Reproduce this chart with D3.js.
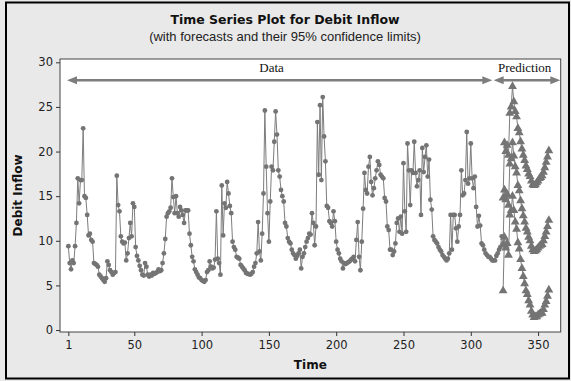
<!DOCTYPE html>
<html>
<head>
<meta charset="utf-8">
<script src="https://cdn.jsdelivr.net/npm/d3@7"></script>
<style>
  body { margin: 0; background: #fff; }
</style>
</head>
<body>
<script>
// observed debit inflow, t = 1 .. 323
const debit = [
  9.4, 7.5, 6.8, 7.8, 7.5, 9.4, 12.0, 17.0, 14.2, 16.8,
  16.8, 22.6, 15.0, 14.8, 12.9, 10.6, 10.8, 10.1, 9.9, 7.5,
  7.4, 7.3, 7.1, 6.2, 6.0, 5.8, 5.6, 5.4, 5.8, 7.7,
  7.3, 6.7, 6.5, 6.2, 6.4, 6.5, 17.3, 14.0, 13.3, 10.5,
  9.9, 9.7, 9.8, 7.8, 8.6, 10.3, 12.0, 10.5, 14.2, 13.8,
  9.3, 8.3, 7.8, 7.2, 6.7, 6.2, 6.1, 7.5, 7.1, 6.2,
  6.0, 6.2, 6.1, 6.4, 6.3, 6.4, 6.5, 6.8, 6.6, 6.7,
  7.5, 8.6, 10.2, 12.7, 13.1, 13.3, 13.7, 17.0, 14.9, 13.1,
  15.0, 13.1, 12.7, 13.8, 13.4, 12.9, 12.0, 13.4, 13.4, 13.4,
  10.8, 9.5, 8.2, 7.7, 6.8, 6.5, 6.2, 5.9, 5.8, 5.6,
  5.5, 5.4, 5.6, 6.5, 6.7, 7.7, 7.1, 6.9, 7.0, 7.9,
  13.3, 8.0, 7.5, 6.2, 16.2, 10.6, 14.2, 13.7, 16.6, 15.3,
  13.9, 13.1, 9.9, 9.3, 9.0, 8.2, 8.1, 8.0, 7.3, 7.1,
  6.9, 6.7, 6.4, 6.3, 6.3, 6.2, 6.3, 6.5, 7.1, 7.5,
  8.6, 12.1, 8.8, 7.8, 10.8, 15.3, 24.6, 18.3, 13.1, 9.9,
  14.4, 18.3, 17.9, 21.1, 24.5, 21.9, 17.9, 17.2, 15.7, 15.0,
  14.4, 12.0, 11.6, 10.3, 9.9, 9.7, 9.0, 8.6, 8.4, 8.0,
  8.3, 8.6, 9.0, 6.9, 8.2, 8.6, 9.3, 9.9, 10.3, 10.8,
  10.7, 13.1, 12.0, 9.5, 11.6, 23.3, 17.4, 25.2, 16.8, 26.1,
  21.7, 18.9, 13.9, 13.7, 12.2, 12.0, 11.6, 13.3, 12.2, 9.9,
  9.0, 8.6, 8.0, 7.7, 6.9, 7.5, 7.4, 7.5, 7.6, 7.7,
  7.9, 8.0, 8.2, 7.7, 10.1, 12.1, 8.2, 6.7, 9.9, 13.6,
  17.6, 15.7, 15.3, 18.3, 19.4, 16.6, 15.1, 15.9, 17.0, 17.9,
  18.9, 18.5, 17.4, 17.2, 17.0, 14.8, 14.4, 11.6, 11.2, 9.0,
  9.0, 8.4, 8.8, 9.7, 12.0, 12.5, 11.0, 12.7, 10.8, 18.7,
  13.3, 11.0, 20.9, 17.9, 14.0, 17.9, 17.6, 21.1, 17.6, 16.1,
  16.8, 17.9, 12.9, 20.4, 17.7, 19.4, 20.7, 17.2, 19.1, 14.6,
  13.5, 10.5, 10.1, 9.9, 9.7, 9.3, 9.0, 8.8, 8.4, 8.2,
  8.0, 7.8, 8.0, 8.6, 12.9, 9.0, 12.9, 12.9, 11.4, 9.9,
  11.6, 12.9, 17.9, 15.1, 15.3, 16.8, 22.2, 16.4, 17.0, 20.9,
  17.0, 15.9, 17.2, 13.8, 11.6, 12.8, 11.7, 9.7, 9.5, 9.0,
  8.6, 8.4, 8.2, 8.2, 8.0, 7.8, 7.8, 7.8, 8.3, 8.6,
  9.0, 9.3, 10.5
];

// forecasts and 95% limits, t = 324 .. 358
const forecastStart = 324;
const forecast = [
  9.6, 15.7, 14.6, 15.2, 14.0, 18.6, 19.2, 21.0, 19.5, 18.3,
  17.6, 16.2, 15.6, 14.5, 13.6, 12.8, 12.1, 11.4, 11.0, 10.4,
  10.0, 9.4, 9.0, 8.8, 8.9, 9.0, 9.2, 9.4, 9.5, 9.6,
  10.0, 10.5, 11.0, 11.6, 12.3
];
const upper = [
  14.8, 21.0, 20.0, 20.7, 19.6, 24.3, 25.0, 27.3, 25.6, 24.5,
  23.9, 22.6, 22.1, 21.1, 20.3, 19.6, 19.0, 18.4, 18.0, 17.5,
  17.2, 16.7, 16.3, 16.2, 16.3, 16.5, 16.7, 17.0, 17.1, 17.3,
  17.7, 18.2, 18.8, 19.4, 20.1
];
const lower = [
  4.4, 10.4, 9.2, 9.7, 8.4, 12.9, 13.4, 15.0, 13.4, 12.1,
  11.3, 9.8, 9.1, 7.9, 6.9, 6.0, 5.2, 4.4, 4.0, 3.3,
  2.8, 2.1, 1.7, 1.4, 1.5, 1.5, 1.7, 1.8, 1.9, 1.9,
  2.3, 2.8, 3.2, 3.8, 4.5
];

const xTicks = [1, 50, 100, 150, 200, 250, 300, 350];
const yTicks = [0, 5, 10, 15, 20, 25, 30];

// annotation spans (in time units) along the top of the plot
const spans = [
  { label: 'Data', from: 0, to: 316, labelAt: 152 },
  { label: 'Prediction', from: 317, to: 366.5, labelAt: 340 },
];

const width = 571;
const height = 381;
const plot = { left: 60, right: 560.7, top: 59, bottom: 332 };
const grey = '#7d7d7d';

const x = d3.scaleLinear().domain([-5.2, 366.8]).range([plot.left, plot.right]);
const y = d3.scaleLinear().domain([-0.22, 30.37]).range([plot.bottom, plot.top]);

const svg = d3.select('body').append('svg')
  .attr('width', width)
  .attr('height', height)
  .attr('viewBox', [0, 0, width, height])
  .style('display', 'block');

svg.append('rect')
  .attr('width', width)
  .attr('height', height)
  .attr('fill', '#e9e9e9');

// outer frame
svg.append('rect')
  .attr('x', 6)
  .attr('y', 2.5)
  .attr('width', 563)
  .attr('height', 376)
  .attr('fill', 'none')
  .attr('stroke', 'black')
  .attr('stroke-width', 2);

svg.append('rect')
  .attr('x', plot.left)
  .attr('y', plot.top)
  .attr('width', plot.right - plot.left)
  .attr('height', plot.bottom - plot.top)
  .attr('fill', 'white')
  .attr('stroke', '#444')
  .attr('stroke-width', 1);

// titles
svg.append('text')
  .attr('x', 285)
  .attr('y', 24)
  .attr('text-anchor', 'middle')
  .attr('font-family', 'DejaVu Sans')
  .attr('font-weight', 'bold')
  .attr('font-size', 12.5)
  .attr('fill', '#111')
  .text('Time Series Plot for Debit Inflow');

svg.append('text')
  .attr('x', 285)
  .attr('y', 41)
  .attr('text-anchor', 'middle')
  .attr('font-family', 'Liberation Sans')
  .attr('font-size', 13)
  .attr('fill', '#222')
  .text('(with forecasts and their 95% confidence limits)');

// axes
const xAxis = svg.append('g')
  .attr('transform', `translate(0,${plot.bottom})`)
  .call(d3.axisBottom(x).tickValues(xTicks).tickSize(4).tickPadding(5));
const yAxis = svg.append('g')
  .attr('transform', `translate(${plot.left},0)`)
  .call(d3.axisLeft(y).tickValues(yTicks).tickSize(4).tickPadding(3));

[xAxis, yAxis].forEach((g) => {
  g.select('.domain').remove();
  g.selectAll('line').attr('stroke', '#333');
  g.selectAll('text')
    .attr('font-family', 'DejaVu Sans')
    .attr('font-size', 11.5)
    .attr('fill', '#222');
});

svg.append('text')
  .attr('x', (plot.left + plot.right) / 2)
  .attr('y', 369)
  .attr('text-anchor', 'middle')
  .attr('font-family', 'DejaVu Sans')
  .attr('font-weight', 'bold')
  .attr('font-size', 12)
  .attr('fill', '#111')
  .text('Time');

svg.append('text')
  .attr('transform', `translate(22,${(plot.top + plot.bottom) / 2}) rotate(-90)`)
  .attr('text-anchor', 'middle')
  .attr('font-family', 'DejaVu Sans')
  .attr('font-weight', 'bold')
  .attr('font-size', 12)
  .attr('fill', '#111')
  .text('Debit Inflow');

// span arrows
const arrowY = y(28);
const head = 10;
const half = 4;
spans.forEach((s) => {
  const x0 = x(s.from);
  const x1 = x(s.to);
  svg.append('line')
    .attr('x1', x0 + head - 1)
    .attr('x2', x1 - head + 1)
    .attr('y1', arrowY)
    .attr('y2', arrowY)
    .attr('stroke', grey)
    .attr('stroke-width', 2.5);
  svg.append('path')
    .attr('d', `M${x0},${arrowY}L${x0 + head},${arrowY - half}L${x0 + head},${arrowY + half}Z`)
    .attr('fill', grey);
  svg.append('path')
    .attr('d', `M${x1},${arrowY}L${x1 - head},${arrowY - half}L${x1 - head},${arrowY + half}Z`)
    .attr('fill', grey);
  svg.append('text')
    .attr('x', x(s.labelAt))
    .attr('y', arrowY - 8)
    .attr('text-anchor', 'middle')
    .attr('font-family', 'Liberation Serif')
    .attr('font-size', 13)
    .attr('fill', '#111')
    .text(s.label);
});

// observed series
const obs = debit.map((v, i) => [i + 1, v]);
const line = d3.line().x((d) => x(d[0])).y((d) => y(d[1]));

svg.append('path')
  .attr('d', line(obs))
  .attr('fill', 'none')
  .attr('stroke', grey)
  .attr('stroke-width', 1);

svg.append('g')
  .selectAll('circle')
  .data(obs)
  .join('circle')
  .attr('cx', (d) => x(d[0]))
  .attr('cy', (d) => y(d[1]))
  .attr('r', 2.4)
  .attr('fill', '#747474');

// forecast series with limits
const triangle = d3.symbol(d3.symbolTriangle, 34);
[upper, forecast, lower].forEach((series) => {
  const pts = series.map((v, i) => [forecastStart + i, v]);
  svg.append('path')
    .attr('d', line(pts))
    .attr('fill', 'none')
    .attr('stroke', grey)
    .attr('stroke-width', 1);
  svg.append('g')
    .selectAll('path')
    .data(pts)
    .join('path')
    .attr('transform', (d) => `translate(${x(d[0])},${y(d[1])})`)
    .attr('d', triangle)
    .attr('fill', '#747474');
});
</script>
</body>
</html>
